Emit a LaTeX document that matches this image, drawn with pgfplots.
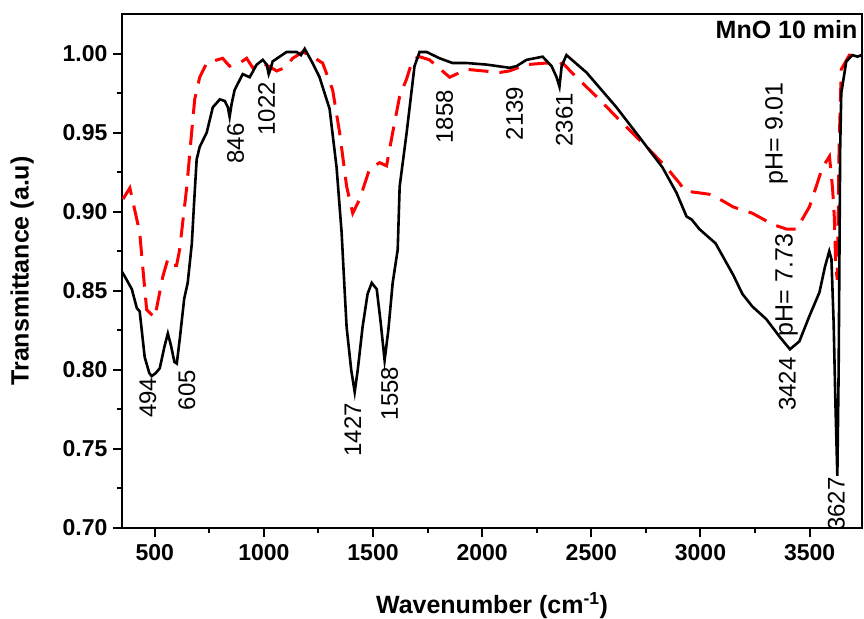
\documentclass[border=0pt]{standalone}
\usepackage{fontspec}
\setmainfont{Liberation Sans}
\usepackage{pgfplots}
\pgfplotsset{compat=1.18}
\newcommand{\tickfont}{\fontsize{23}{27}\selectfont\bfseries}
\newcommand{\labfont}{\fontsize{25}{29}\selectfont\bfseries}
\newcommand{\annfont}{\fontsize{24}{28}\selectfont}
\newcommand{\phfont}{\fontsize{25}{29}\selectfont}
\newcommand{\titfont}{\fontsize{25}{29}\selectfont\bfseries}
\begin{document}
\begin{tikzpicture}
\path[use as bounding box] (-122pt,-90pt) rectangle (742pt,528pt);
\begin{axis}[
  at={(0pt,0pt)}, anchor=south west,
  scale only axis, width=740pt, height=514pt,
  xmin=350, xmax=3740, ymin=0.70, ymax=1.025,
  xtick={500,1000,...,3500}, minor x tick num=1,
  ytick={0.70,0.75,0.80,0.85,0.90,0.95,1.00}, minor y tick num=1,
  xtick pos=left, ytick pos=left, tick align=outside,
  major tick length=9pt, minor tick length=5pt,
  tick style={line width=2pt, black},
  axis line style={line width=2.4pt},
  clip=false,
  /pgf/number format/assume math mode=true,
  /pgf/number format/1000 sep={},
  yticklabel style={/pgf/number format/fixed, /pgf/number format/fixed zerofill, /pgf/number format/precision=2, font=\tickfont, xshift=-2pt},
  xticklabel style={font=\tickfont, yshift=-4pt},
  xlabel={Wavenumber (cm\textsuperscript{-1})},
  ylabel={Transmittance (a.u)},
  xlabel style={font=\labfont, at={(axis description cs:0.5,-0.150)}, anchor=center},
  ylabel style={font=\labfont, at={(axis description cs:-0.135,0.5)}, anchor=center},
]
\addplot[red, line width=3pt, dash pattern=on 20pt off 11pt] coordinates {
(355,0.908) (386,0.915) (410,0.900) (431,0.887) (445,0.865) (463,0.838) (500,0.833)
(537,0.859) (560,0.870) (580,0.866) (600,0.866) (614,0.876) (647,0.916) (669,0.950)
(683,0.971) (706,0.985) (738,0.994) (811,0.997) (843,0.992) (889,0.994) (921,0.997)
(949,0.991) (995,0.994) (1059,0.989) (1095,0.991) (1132,0.997) (1178,1.001) (1223,0.998)
(1269,0.994) (1315,0.977) (1347,0.950) (1379,0.916) (1407,0.899) (1439,0.908) (1484,0.927)
(1530,0.931) (1562,0.929) (1590,0.950) (1622,0.973) (1654,0.984) (1681,0.996) (1713,0.998)
(1759,0.996) (1851,0.985) (1929,0.990) (2080,0.988) (2125,0.989) (2203,0.993) (2295,0.994)
(2354,0.993) (2368,0.994) (2432,0.985) (2537,0.971) (2628,0.958) (2753,0.941) (2844,0.928)
(2904,0.918) (2930,0.913) (2990,0.912) (3041,0.911) (3100,0.907) (3150,0.903) (3238,0.899)
(3330,0.892) (3394,0.889) (3440,0.889) (3499,0.903) (3559,0.928) (3591,0.935) (3605,0.915)
(3613,0.897) (3620,0.865) (3627,0.857) (3635,0.940) (3645,0.990) (3682,0.999) (3737,0.998)
};
\addplot[black, line width=2.6pt] coordinates {
(350,0.862) (363,0.859) (395,0.851) (418,0.839) (431,0.837) (454,0.808) (475,0.798)
(486,0.796) (505,0.798) (523,0.801) (545,0.815) (560,0.823) (575,0.815) (590,0.805)
(601,0.804) (615,0.820) (635,0.845) (651,0.855) (670,0.880) (680,0.905) (692,0.933)
(706,0.941) (738,0.950) (766,0.966) (798,0.971) (821,0.970) (835,0.966) (843,0.960)
(852,0.968) (866,0.977) (903,0.987) (935,0.985) (967,0.993) (995,0.996) (1013,0.993)
(1022,0.987) (1030,0.990) (1040,0.995) (1072,0.998) (1104,1.001) (1150,1.001) (1170,0.999)
(1187,1.003) (1223,0.994) (1255,0.985) (1301,0.965) (1333,0.928) (1356,0.887) (1370,0.850)
(1379,0.827) (1400,0.800) (1416,0.786) (1430,0.800) (1452,0.827) (1475,0.848) (1494,0.855)
(1517,0.851) (1535,0.830) (1553,0.806) (1570,0.825) (1590,0.855) (1613,0.876) (1622,0.916)
(1654,0.950) (1690,0.992) (1713,1.001) (1745,1.001) (1805,0.997) (1864,0.994) (1929,0.994)
(2020,0.993) (2125,0.991) (2157,0.992) (2203,0.996) (2277,0.998) (2318,0.992) (2341,0.985)
(2354,0.979) (2364,0.992) (2386,0.999) (2478,0.988) (2615,0.966) (2721,0.947) (2826,0.928)
(2890,0.912) (2936,0.897) (2960,0.895) (2995,0.889) (3069,0.880) (3150,0.860) (3192,0.848)
(3238,0.840) (3302,0.832) (3362,0.821) (3410,0.813) (3453,0.818) (3499,0.834) (3545,0.849)
(3570,0.865) (3590,0.875) (3600,0.870) (3610,0.830) (3618,0.780) (3627,0.733) (3633,0.800)
(3640,0.940) (3645,0.975) (3668,0.995) (3696,0.999) (3720,0.998) (3737,0.999)
};
\node[rotate=90, anchor=east, inner sep=0pt, font=\annfont] at (axis cs:468,0.795) {494};
\node[rotate=90, anchor=east, inner sep=0pt, font=\annfont] at (axis cs:647,0.800) {605};
\node[rotate=90, anchor=east, inner sep=0pt, font=\annfont] at (axis cs:871,0.956) {846};
\node[rotate=90, anchor=east, inner sep=0pt, font=\annfont] at (axis cs:1013,0.982) {1022};
\node[rotate=90, anchor=east, inner sep=0pt, font=\annfont] at (axis cs:1407,0.779) {1427};
\node[rotate=90, anchor=east, inner sep=0pt, font=\annfont] at (axis cs:1576,0.802) {1558};
\node[rotate=90, anchor=east, inner sep=0pt, font=\annfont] at (axis cs:1828,0.977) {1858};
\node[rotate=90, anchor=east, inner sep=0pt, font=\annfont] at (axis cs:2148,0.979) {2139};
\node[rotate=90, anchor=east, inner sep=0pt, font=\annfont] at (axis cs:2377,0.975) {2361};
\node[rotate=90, anchor=east, inner sep=0pt, font=\annfont] at (axis cs:3398,0.808) {3424};
\node[rotate=90, anchor=east, inner sep=0pt, font=\annfont] at (axis cs:3623,0.732) {3627};
\node[rotate=90, anchor=east, inner sep=0pt, font=\phfont] at (axis cs:3348,0.982) {pH= 9.01};
\node[rotate=90, anchor=east, inner sep=0pt, font=\phfont] at (axis cs:3394,0.886) {pH= 7.73};
\node[anchor=north west, inner sep=0pt, font=\titfont] at (axis cs:3069,1.021) {MnO 10 min};
\end{axis}
\end{tikzpicture}
\end{document}
